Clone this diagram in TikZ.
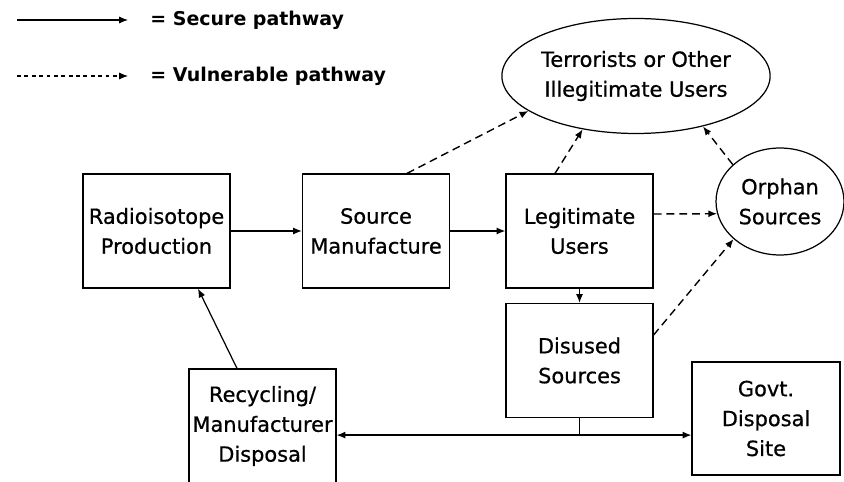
\documentclass[tikz,border=0pt]{standalone}
\usepackage{fontspec}
\setmainfont{DejaVu Sans}
\newfontfamily\boxfont[FakeBold=0.7]{DejaVu Sans}
\usetikzlibrary{shapes.geometric,arrows.meta,positioning,calc}

\tikzset{
  box/.style={draw, line width=0.7pt, minimum width=2.94cm, minimum height=2.28cm,
    align=center, inner sep=0pt, font=\boxfont\fontsize{11.9}{17}\selectfont},
  oval/.style={draw, ellipse, line width=0.7pt, inner sep=0pt, align=center,
    font=\boxfont\fontsize{11.9}{17}\selectfont},
  secure/.style={line width=0.7pt, -{Latex[length=5pt,width=4pt]}},
  vulnerable/.style={line width=0.8pt, dash pattern=on 4.5pt off 2.8pt, -{Latex[length=5pt,width=4pt]}},
  legendtext/.style={anchor=west, inner sep=0pt, font=\fontsize{10.8}{13}\selectfont\bfseries}
}

\begin{document}
\begin{tikzpicture}[x=0.02cm, y=-0.02cm]
    \useasboundingbox (0,0) rectangle (844,482);

    % Legend
    \coordinate (secA) at (17,20);
    \coordinate (secB) at (128,20);
    \coordinate (vulA) at (17,76);
    \coordinate (vulB) at (128,76);
    \node[legendtext] (securelbl) at (150,20) {= Secure pathway};
    \node[legendtext] (vulnlbl) at (150,76) {= Vulnerable pathway};
    \draw[line width=0.6pt, -{Latex[length=5pt,width=4pt]}] (secA) -- (secB);
    \draw[line width=0.6pt, dash pattern=on 2.2pt off 2pt, -{Latex[length=5pt,width=4pt]}] (vulA) -- (vulB);

    % Chain of custody
    \node[box] (radio) at (156.5,231) {Radioisotope\\Production};
    \node[box] (source) at (376,231) {Source\\Manufacture};
    \node[box] (legit) at (579.5,231) {Legitimate\\Users};
    \node[box] (disused) at (579.5,360.5) {Disused\\Sources};
    \node[box, minimum width=2.96cm, minimum height=2.26cm] (govt) at (766,418.5) {Govt.\\Disposal\\Site};
    \node[box] (recycle) at (262.5,426) {Recycling/\\Manufacturer\\Disposal};

    % Outside regulatory control
    \node[oval, minimum width=4.56cm, minimum height=2.3cm] (terror) at (636,76) {Terrorists or Other\\Illegitimate Users};
    \node[oval, minimum width=2.56cm, minimum height=2.14cm] (orphan) at (780,201.5) {Orphan\\Sources};

    % Secure pathways
    \draw[secure] (radio) -- (source);
    \draw[secure] (source) -- (legit);
    \draw[secure] (legit) -- (disused);
    \draw[line width=0.7pt] (disused.south) -- ++(0,17) coordinate (split);
    \draw[line width=0.7pt, {Latex[length=5pt,width=4pt]}-{Latex[length=5pt,width=4pt]}]
        (recycle.east |- split) -- (govt.west |- split);
    \draw[secure] ([xshift=-0.51cm]recycle.north) -- ([xshift=0.83cm]radio.south);

    % Vulnerable pathways
    \draw[vulnerable] ([xshift=0.62cm]source.north) -- (terror.198);
    \draw[vulnerable] ([xshift=-0.49cm]legit.north) -- (terror.225);
    \draw[vulnerable] ([yshift=0.34cm]legit.east) -- (orphan.191);
    \draw[vulnerable] (orphan.142) -- (terror.323);
    \draw[vulnerable] ([yshift=0.51cm]disused.east) -- (orphan.219);
\end{tikzpicture}
\end{document}
